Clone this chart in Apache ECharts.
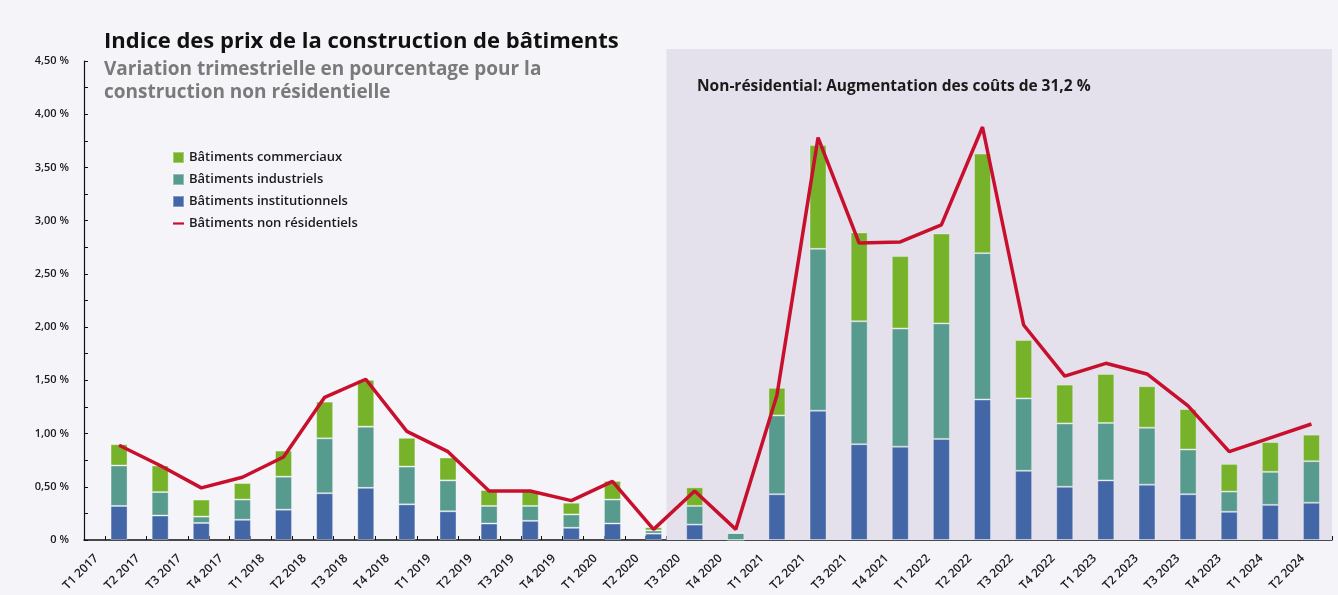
<!DOCTYPE html>
<html>
<head>
<meta charset="utf-8">
<script src="https://cdn.jsdelivr.net/npm/echarts@6/dist/echarts.min.js"></script>
<style>
  html, body { margin: 0; padding: 0; background: #f5f4f9; }
  #chart { width: 1338px; height: 595px; }
</style>
</head>
<body>
<div id="chart"></div>
<script>
// trimestres
var quarters = [
  'T1 2017', 'T2 2017', 'T3 2017', 'T4 2017',
  'T1 2018', 'T2 2018', 'T3 2018', 'T4 2018',
  'T1 2019', 'T2 2019', 'T3 2019', 'T4 2019',
  'T1 2020', 'T2 2020', 'T3 2020', 'T4 2020',
  'T1 2021', 'T2 2021', 'T3 2021', 'T4 2021',
  'T1 2022', 'T2 2022', 'T3 2022', 'T4 2022',
  'T1 2023', 'T2 2023', 'T3 2023', 'T4 2023',
  'T1 2024', 'T2 2024'
];

// contributions (%)
var institutionnels = [
  0.32, 0.23, 0.16, 0.19, 0.285, 0.44, 0.49, 0.335,
  0.27, 0.155, 0.18, 0.115, 0.155, 0.06, 0.145, 0,
  0.43, 1.215, 0.90, 0.877, 0.95, 1.32, 0.65, 0.50,
  0.56, 0.52, 0.43, 0.265, 0.33, 0.35
];
var industriels = [
  0.38, 0.22, 0.06, 0.19, 0.31, 0.515, 0.575, 0.355,
  0.29, 0.165, 0.14, 0.125, 0.225, 0.03, 0.175, 0.065,
  0.74, 1.52, 1.155, 1.11, 1.085, 1.375, 0.68, 0.595,
  0.54, 0.535, 0.42, 0.19, 0.31, 0.39
];
var commerciaux = [
  0.20, 0.25, 0.16, 0.155, 0.245, 0.345, 0.44, 0.27,
  0.215, 0.15, 0.14, 0.11, 0.175, 0.03, 0.175, 0,
  0.26, 0.975, 0.835, 0.68, 0.845, 0.935, 0.55, 0.365,
  0.46, 0.39, 0.38, 0.26, 0.28, 0.25
];
var nonResidentiels = [
  0.89, 0.70, 0.49, 0.59, 0.78, 1.34, 1.51, 1.02,
  0.83, 0.46, 0.46, 0.37, 0.55, 0.10, 0.46, 0.10,
  1.36, 3.78, 2.79, 2.80, 2.96, 3.88, 2.02, 1.54,
  1.66, 1.56, 1.26, 0.83, 0.96, 1.09
];

var yMin = 0, yMax = 4.5, yStep = 0.5;
var shadeFrom = 13.5; // entre T2 2020 et T3 2020

var chart = echarts.init(document.getElementById('chart'));
var font = '"Open Sans", Lato, sans-serif';

function pct(v) {
  if (v === 0) return '0 %';
  return v.toFixed(2).replace('.', ',') + ' %';
}

function barStyle(color) {
  return { color: color, borderColor: 'rgba(255,255,255,0.35)', borderWidth: 1 };
}

var option = {
  backgroundColor: '#f5f4f9',
  textStyle: { fontFamily: font },
  title: [{
    text: 'Indice des prix de la construction de bâtiments',
    subtext: 'Variation trimestrielle en pourcentage pour la\nconstruction non résidentielle',
    left: 104,
    top: 31,
    padding: 0,
    itemGap: 5,
    textStyle: { fontFamily: font, fontSize: 22, fontWeight: 'bold', color: '#111' },
    subtextStyle: { fontFamily: font, fontSize: 19, fontWeight: 'bold', color: '#7a7a7a', lineHeight: 23 }
  }, {
    text: 'Non-résidential: Augmentation des coûts de 31,2 %',
    left: 697,
    top: 79,
    padding: 0,
    textStyle: { fontFamily: font, fontSize: 15.5, fontWeight: 'bold', color: '#1a1a1a' }
  }],
  legend: {
    orient: 'vertical',
    left: 172,
    top: 151,
    padding: 0,
    itemGap: 9,
    itemWidth: 11,
    itemHeight: 11,
    textStyle: { fontFamily: font, fontSize: 13, fontWeight: 600, color: '#1a1a1a' },
    data: [
      { name: 'Bâtiments commerciaux', icon: 'rect' },
      { name: 'Bâtiments industriels', icon: 'rect' },
      { name: 'Bâtiments institutionnels', icon: 'rect' },
      { name: 'Bâtiments non résidentiels', icon: 'path://M0,0 L10,0 L10,2 L0,2 Z' }
    ]
  },
  // grille 0 : axes visibles ; grille 1 : barres et courbe (décalées comme dans l'original)
  grid: [
    { left: 84, right: 6, top: 61, bottom: 55 },
    { left: 98.5, right: 6, top: 61, bottom: 55 }
  ],
  xAxis: [{
    type: 'category',
    gridIndex: 0,
    position: 'bottom',
    data: quarters,
    boundaryGap: true,
    axisLine: { lineStyle: { color: '#111', width: 1.5 } },
    axisTick: { show: false },
    axisLabel: {
      rotate: 45,
      interval: 0,
      margin: 8,
      padding: [0, 12, 0, 0],
      fontFamily: font,
      fontSize: 12,
      fontWeight: 600,
      color: '#1a1a1a'
    }
  }, {
    type: 'value',
    gridIndex: 0,
    position: 'bottom',
    min: -0.5,
    max: quarters.length - 0.5,
    interval: 0.5,
    axisLine: { show: false, onZero: false },
    axisTick: { show: true, inside: true, length: 4, lineStyle: { color: '#111' } },
    axisLabel: { show: false },
    splitLine: { show: false }
  }, {
    type: 'category',
    gridIndex: 1,
    data: quarters,
    boundaryGap: true,
    show: false
  }],
  yAxis: [{
    type: 'value',
    gridIndex: 0,
    min: yMin,
    max: yMax,
    interval: yStep,
    axisLine: { show: true, onZero: false, lineStyle: { color: '#111', width: 1.2 } },
    axisTick: { show: true, inside: true, length: 4, lineStyle: { color: '#111' } },
    minorTick: { show: true, splitNumber: 2, length: 4, lineStyle: { color: '#111' } },
    splitLine: { show: false },
    axisLabel: {
      margin: 15,
      fontFamily: font,
      fontSize: 11,
      fontWeight: 600,
      color: '#1a1a1a',
      formatter: pct
    }
  }, {
    type: 'value',
    gridIndex: 1,
    min: yMin,
    max: yMax,
    interval: yStep,
    show: false,
    splitLine: { show: false }
  }],
  series: [{
    // zone ombrée "non résidentiel"
    type: 'line',
    xAxisIndex: 1,
    yAxisIndex: 0,
    data: [],
    silent: true,
    z: 0,
    markArea: {
      silent: true,
      itemStyle: { color: '#e4e1ec' },
      data: [[{ xAxis: shadeFrom }, { xAxis: quarters.length - 0.5, y: 49 }]]
    }
  }, {
    name: 'Bâtiments institutionnels',
    type: 'bar',
    xAxisIndex: 2,
    yAxisIndex: 1,
    stack: 'total',
    barWidth: 17,
    itemStyle: barStyle('#4367a6'),
    data: institutionnels
  }, {
    name: 'Bâtiments industriels',
    type: 'bar',
    xAxisIndex: 2,
    yAxisIndex: 1,
    stack: 'total',
    barWidth: 17,
    itemStyle: barStyle('#579a8e'),
    data: industriels
  }, {
    name: 'Bâtiments commerciaux',
    type: 'bar',
    xAxisIndex: 2,
    yAxisIndex: 1,
    stack: 'total',
    barWidth: 17,
    itemStyle: barStyle('#76b32a'),
    data: commerciaux
  }, {
    name: 'Bâtiments non résidentiels',
    type: 'line',
    xAxisIndex: 2,
    yAxisIndex: 1,
    symbol: 'none',
    z: 5,
    itemStyle: { color: '#c8102e' },
    lineStyle: { color: '#c8102e', width: 3.5 },
    data: nonResidentiels
  }]
};

chart.setOption(option);
</script>
</body>
</html>
